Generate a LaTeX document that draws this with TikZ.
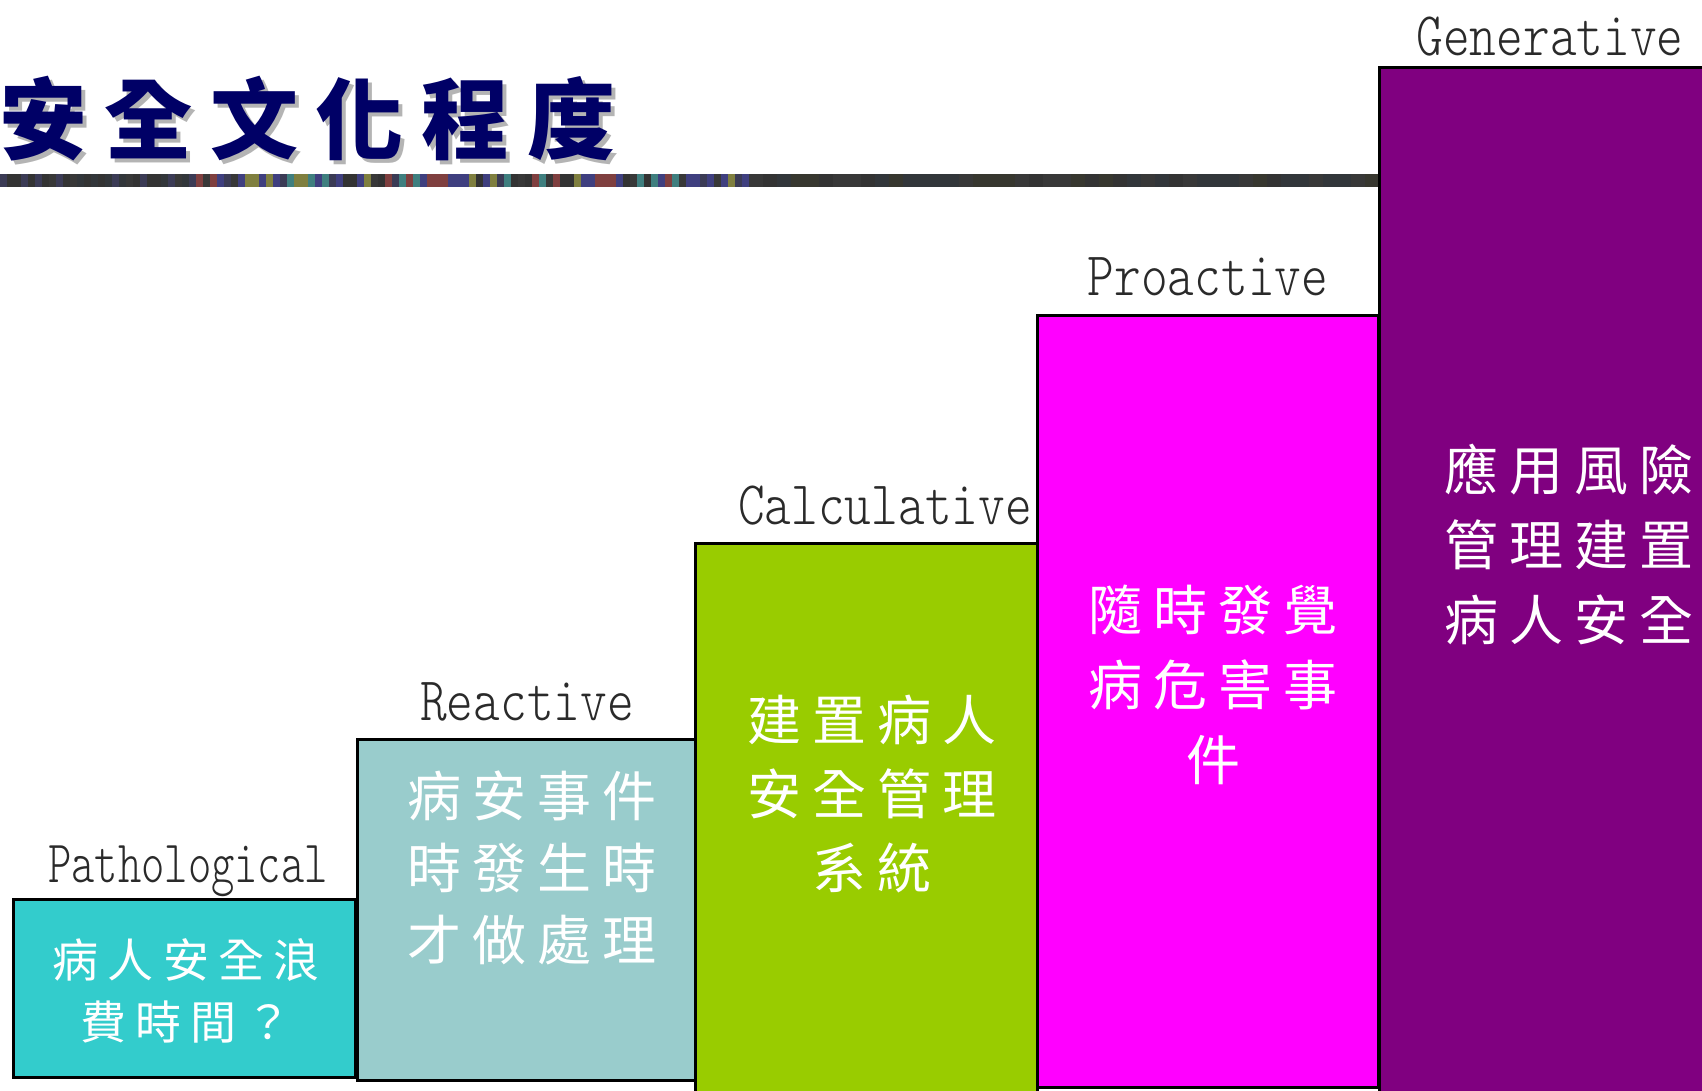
\documentclass[tikz,border=0pt]{standalone}
\usepackage{fontspec}
\newfontfamily\cjk[LetterSpace=20]{Noto Sans CJK TC}
\newfontfamily\lmono[FakeStretch=0.82]{lmmonolt10-regular.otf}
\newfontfamily\lmonoN[FakeStretch=0.74]{lmmonolt10-regular.otf}
\definecolor{cpath}{HTML}{33CCCC}
\definecolor{creact}{HTML}{99CCCC}
\definecolor{ccalc}{HTML}{99CC00}
\definecolor{cpro}{HTML}{FF00FF}
\definecolor{cgen}{HTML}{800080}
\definecolor{navy}{HTML}{000066}
\definecolor{shadowgray}{HTML}{B4B4B4}
\definecolor{labelgray}{HTML}{2A2A2A}
\definecolor{bd1}{HTML}{333333}
\definecolor{bd2}{HTML}{383838}
\definecolor{bd3}{HTML}{37372F}
\definecolor{bd4}{HTML}{32363A}
\definecolor{sp}{HTML}{3F3F7F}
\definecolor{st}{HTML}{3F7F7F}
\definecolor{so}{HTML}{7F7F3F}
\definecolor{sm}{HTML}{7F3F3F}
\definecolor{sg}{HTML}{3B3B55}
\pgfmathdeclarerandomlist{darkc}{{bd1}{bd2}{bd3}{bd4}}
\pgfmathdeclarerandomlist{leftc}{{bd1}{bd2}{bd4}{sg}{bd3}{bd1}}
\pgfmathdeclarerandomlist{allc}{{bd1}{sp}{st}{so}{sm}{bd2}{sg}{st}{sp}}
\tikzset{
  stagebox/.style={draw=black, line width=3pt, inner sep=0pt},
  boxtext/.style={text=white, align=center, inner sep=0pt},
  stagelabel/.style={anchor=base, inner sep=0pt, text=labelgray,
    font=\lmono\fontsize{62}{62}\selectfont},
  titletext/.style={anchor=west, inner sep=0pt,
    font=\cjk\bfseries\fontsize{88}{100}\selectfont},
}
\begin{document}
\begin{tikzpicture}[x=1pt,y=-1pt]
\useasboundingbox (0,0) rectangle (1702,1090);
\clip (0,0) rectangle (1702,1090);
\fill[white] (0,0) rectangle (1702,1090);

% title with shadow
\node[titletext, text=shadowgray] (titleshadow) at (3,123) {安全文化程度};
\node[titletext, text=navy] (title) at (-1,119) {安全文化程度};

% striped bar
\pgfmathsetseed{7}
\fill[bd1] (0,174) rectangle (1379,187);
\foreach \i in {0,...,27} {
  \pgfmathrandomitem{\c}{leftc}
  \fill[\c] (\i*7,174) rectangle ++(7,13);
}
\foreach \i in {28,...,106} {
  \pgfmathrandomitem{\c}{allc}
  \fill[\c] (\i*7,174) rectangle ++(7,13);
}
\foreach \i in {0,...,45} {
  \pgfmathrandomitem{\c}{darkc}
  \fill[\c] (749+\i*14,174) rectangle ++(14,13);
}

% stage boxes
\node[stagebox, fill=cpath, minimum width=342pt, minimum height=178pt] (boxP) at (184,988) {};
\node[stagebox, fill=creact, minimum width=338pt, minimum height=341pt] (boxR) at (526,909.5) {};
\node[stagebox, fill=ccalc, minimum width=342pt, minimum height=560pt] (boxC) at (866,823) {};
\node[stagebox, fill=cpro, minimum width=341pt, minimum height=772pt] (boxPro) at (1207.5,701) {};
\node[stagebox, fill=cgen, minimum width=370pt, minimum height=1050pt] (boxG) at (1564,592) {};

% stage names
\node[stagelabel, font=\lmonoN\fontsize{60}{60}\selectfont] (lP) at (188,882) {Pathological};
\node[stagelabel] (lR) at (527,720) {Reactive};
\node[stagelabel] (lC) at (885,524) {Calculative};
\node[stagelabel] (lPro) at (1208,295) {Proactive};
\node[stagelabel] (lG) at (1550,55) {Generative};

% box texts
\node[boxtext, font=\cjk\fontsize{46}{62}\selectfont] (tP) at (186,991) {病人安全浪\\費時間？};
\node[boxtext, font=\cjk\fontsize{54}{72}\selectfont] (tR) at (532,868) {病安事件\\時發生時\\才做處理};
\node[boxtext, font=\cjk\fontsize{54}{74}\selectfont] (tC) at (872,794) {建置病人\\安全管理\\系統};
\node[boxtext, font=\cjk\fontsize{54}{75}\selectfont] (tPro) at (1213,685) {隨時發覺\\病危害事\\件};
\node[boxtext, font=\cjk\fontsize{54}{75}\selectfont] (tG) at (1569,544) {應用風險\\管理建置\\病人安全};
\end{tikzpicture}
\end{document}
